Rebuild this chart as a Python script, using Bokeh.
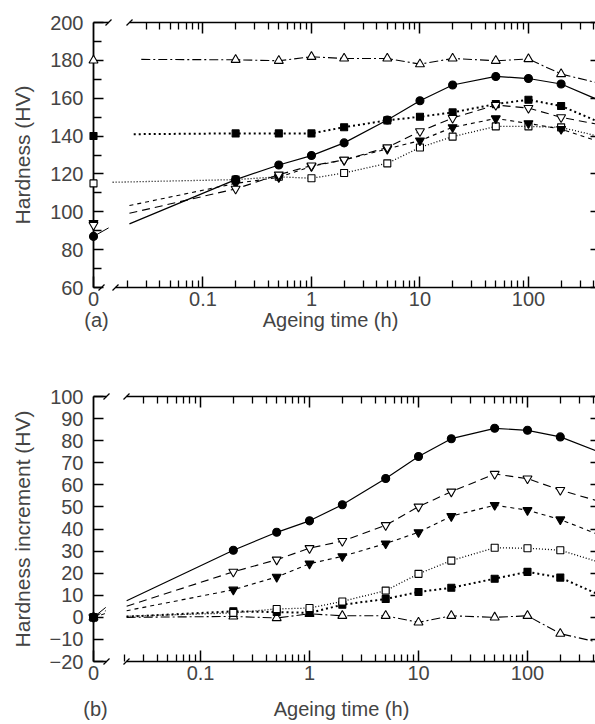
from bokeh.plotting import figure
from bokeh.models import Range1d, FixedTicker, CustomJSTickFormatter, LogAxis, LinearAxis
from bokeh.layouts import column
from bokeh.embed import file_html
from bokeh.resources import INLINE

# ---------------- data ----------------
ageing_time_h = [0, 0.2, 0.5, 1, 2, 5, 10, 20, 50, 100, 200]

# (a) hardness, HV
hv_filled_circle = [87, 117.0, 124.7, 129.7, 136.4, 148.5, 158.7, 167.0, 171.5, 170.4, 167.5]
hv_open_down = [93, 112.1, 119.6, 124.4, 127.4, 134.0, 142.5, 149.5, 156.4, 154.8, 149.9]
hv_filled_down = [94, 115.0, 118.2, 124.0, 127.4, 133.2, 137.6, 144.6, 149.3, 146.7, 143.7]
hv_open_square = [115, 117.0, 118.5, 117.7, 120.5, 125.6, 134.0, 139.7, 145.1, 145.1, 144.6]
hv_filled_square = [140, 141.4, 141.4, 141.4, 144.7, 148.3, 150.2, 152.5, 156.9, 159.2, 155.9]
hv_open_up = [180, 180.3, 179.8, 181.9, 181.0, 181.0, 178.0, 181.0, 179.8, 180.7, 172.8]

# (b) hardness increment, HV
inc_filled_circle = [0, 30.4, 38.5, 43.7, 51.0, 62.9, 72.8, 80.9, 85.6, 84.7, 81.7]
inc_open_down = [0, 20.6, 26.1, 31.3, 34.5, 41.7, 50.1, 56.9, 64.9, 62.8, 57.6]
inc_filled_down = [0, 12.5, 18.3, 24.3, 27.6, 33.4, 38.5, 45.8, 50.8, 48.5, 44.3]
inc_open_square = [0, 2.0, 3.8, 4.2, 7.2, 12.1, 19.7, 25.7, 31.5, 31.3, 30.4]
inc_filled_square = [0, 2.7, 2.4, 2.0, 5.7, 8.3, 11.5, 13.4, 17.5, 20.6, 18.0]
inc_open_up = [0, 0.4, -0.3, 1.6, 0.7, 0.7, -2.3, 0.7, 0.0, 0.7, -7.4]

# fitted curves: where they begin / end beyond the measured points
series_order = ["filled_circle", "open_down", "filled_down", "open_square", "filled_square", "open_up"]
curve_start_time_a = [0.021, 0.021, 0.021, 0.0147, 0.023, 0.027]
curve_start_hv_a = [93.6, 99.2, 103.3, 115.6, 141.0, 180.5]
curve_start_time_b = [0.021, 0.021, 0.021, 0.021, 0.021, 0.021]
curve_start_inc_b = [7.5, 5.0, 3.0, 0.5, 0.3, 0.0]
curve_end_time = 420
curve_end_hv_a = [159.6, 146.4, 137.6, 140.2, 148.1, 168.3]
curve_end_inc_b = [75.5, 53.0, 38.0, 25.5, 11.0, -11.0]
# short curve pieces leaving the t = 0 points
stub_time = 0.0135
stub_hv_a = {"filled_circle": 91.5}
stub_inc_b = {"filled_circle": 4.5, "open_down": 3.0, "filled_down": 1.8}

x_tick_values = [0.1, 1, 10, 100]
x_minor_values = [m * 10 ** e for e in (-2, -1, 0, 1, 2) for m in range(2, 10) if m * 10 ** e < 420]
x_title = "Ageing time (h)"

# ---------------- styles ----------------
FONT = "Liberation Sans"
styles = {
    "filled_circle": dict(marker="circle", fill="black", size=8, dash="solid", lw=1.2),
    "open_down": dict(marker="inverted_triangle", fill="white", size=9, dash="8 5", lw=1.1),
    "filled_down": dict(marker="inverted_triangle", fill="black", size=9, dash="4 4", lw=1.1),
    "open_square": dict(marker="square", fill="white", size=7, dash="1 2", lw=1.3),
    "filled_square": dict(marker="square", fill="black", size=7, dash="2 3", lw=2.0),
    "open_up": dict(marker="triangle", fill="white", size=9, dash="9 3 2 3", lw=1.1),
}

FRAME_L, FRAME_R = 93, 595


def make_panel(height, border_top, border_bottom, lo, hi, yr, y_major, y_minor, ylabel,
               vals, starts_t, starts_v, ends_v, stubs, breaks_above, breaks_below, px_per_unit,
               xlabel_px, tag_px, tag, tag_standoff):
    x0 = 10 ** lo
    x1 = 10 ** hi

    def tx(px):
        return 10 ** (lo + (px - FRAME_L) / (FRAME_R - FRAME_L) * (hi - lo))

    p = figure(width=595, height=height, x_axis_type="log", output_backend="svg",
               toolbar_location=None, x_range=Range1d(x0, x1), y_range=Range1d(*yr),
               min_border_left=FRAME_L, min_border_right=0, min_border_top=border_top,
               min_border_bottom=border_bottom)
    p.outline_line_color = None
    p.grid.visible = False
    p.background_fill_color = "white"

    xa = p.xaxis[0]
    xa.ticker = FixedTicker(ticks=[x0] + x_tick_values, minor_ticks=x_minor_values)
    xa.formatter = CustomJSTickFormatter(code="if (tick < 0.05) { return '0' } return String(tick)")
    xa.axis_line_color = None
    xa.major_tick_in = 11
    xa.major_tick_out = 0
    xa.minor_tick_in = 7
    xa.minor_tick_out = 0
    xa.major_tick_line_width = 1.5
    xa.minor_tick_line_width = 1.3
    xa.major_label_text_font = FONT
    xa.major_label_text_font_size = "20px"
    xa.major_label_standoff = 4

    # second row under the axis: panel tag and axis title
    row2 = LogAxis(ticker=FixedTicker(ticks=[tx(tag_px), tx(xlabel_px)], minor_ticks=[]),
                   formatter=CustomJSTickFormatter(
                       code="return tick < 0.05 ? '%s' : '%s'" % (tag, x_title)),
                   axis_line_color=None, major_tick_in=0, major_tick_out=0, minor_tick_in=0,
                   minor_tick_out=0, major_tick_line_color=None, minor_tick_line_color=None,
                   major_label_text_font=FONT, major_label_text_font_size="20px",
                   major_label_standoff=tag_standoff)
    p.add_layout(row2, "below")

    top = LogAxis(ticker=FixedTicker(ticks=x_tick_values, minor_ticks=[v for v in x_minor_values if v > 0.025]),
                  axis_line_color=None, major_tick_in=11, major_tick_out=0, minor_tick_in=7,
                  minor_tick_out=0, major_tick_line_width=1.5, minor_tick_line_width=1.3,
                  major_label_text_font_size="1px", major_label_text_alpha=0.0,
                  major_label_standoff=0)
    p.add_layout(top, "above")

    ya = p.yaxis[0]
    ya.ticker = FixedTicker(ticks=y_major, minor_ticks=y_minor)
    ya.formatter = CustomJSTickFormatter(code="return tick < 0 ? '\u2212' + Math.abs(tick) : String(tick)")
    ya.axis_line_width = 1.8
    ya.major_tick_in = 10
    ya.major_tick_out = 0
    ya.minor_tick_in = 8
    ya.minor_tick_out = 0
    ya.major_tick_line_width = 1.5
    ya.minor_tick_line_width = 1.5
    ya.major_label_text_font = FONT
    ya.major_label_text_font_size = "20px"
    ya.major_label_standoff = 10
    ya.axis_label = ylabel
    ya.axis_label_text_font = FONT
    ya.axis_label_text_font_size = "21px"
    ya.axis_label_text_font_style = "normal"
    ya.axis_label_standoff = 13

    right = LinearAxis(ticker=FixedTicker(ticks=y_major), axis_line_color=None, major_tick_in=5,
                       major_tick_out=0, minor_tick_in=0, minor_tick_out=0, major_tick_line_width=1.5,
                       major_label_text_font_size="1px", major_label_text_alpha=0.0,
                       major_label_standoff=0)
    p.add_layout(right, "right")

    # broken top / bottom frame lines
    dy = 3.0 / px_per_unit
    for yv, segs in ((yr[1], breaks_above), (yr[0], breaks_below)):
        (a0, a1), (b0, b1) = segs
        p.line([tx(a0), tx(a1)], [yv, yv], line_color="black", line_width=1.6, level="overlay")
        p.line([tx(b0), tx(b1)], [yv, yv], line_color="black", line_width=1.6, level="overlay")
        for c in (a1, b0):
            p.line([tx(c - 3), tx(c + 3)], [yv - dy, yv + dy], line_color="black", line_width=1.3,
                   level="overlay")

    # curves
    for i, name in enumerate(series_order):
        st = styles[name]
        v = vals[name]
        xs = [starts_t[i]] + ageing_time_h[1:] + [curve_end_time]
        ys = [starts_v[i]] + v[1:] + [ends_v[i]]
        p.line(xs, ys, line_color="black", line_width=st["lw"], line_dash=st["dash"])
        if name in stubs:
            p.line([x0, stub_time], [v[0], stubs[name]], line_color="black", line_width=1.0,
                   line_dash=st["dash"])
    # markers
    for name in reversed(series_order):
        st = styles[name]
        v = vals[name]
        p.scatter(ageing_time_h[1:], v[1:], marker=st["marker"], size=st["size"],
                  fill_color=st["fill"], line_color="black", line_width=1.1)
        p.scatter([x0], [v[0]], marker=st["marker"], size=st["size"], fill_color=st["fill"],
                  line_color="black", line_width=1.1, level="overlay")
    return p


vals_a = dict(zip(series_order, [hv_filled_circle, hv_open_down, hv_filled_down,
                                 hv_open_square, hv_filled_square, hv_open_up]))
vals_b = dict(zip(series_order, [inc_filled_circle, inc_open_down, inc_filled_down,
                                 inc_open_square, inc_filled_square, inc_open_up]))

p1 = make_panel(340, 22, 53, -2.009, 2.618, (60, 200), list(range(60, 201, 20)),
                list(range(70, 200, 20)), "Hardness (HV)", vals_a, curve_start_time_a,
                curve_start_hv_a, curve_end_hv_a, stub_hv_a,
                ((93, 108), (129, 595)), ((93, 101), (115, 595)), 265 / 140,
                330, 96, "(a)", 0)
p2 = make_panel(384, 56, 63, -1.982, 2.624, (-20, 100), list(range(-20, 101, 10)), [],
                "Hardness increment (HV)", vals_b, curve_start_time_b, curve_start_inc_b,
                curve_end_inc_b, stub_inc_b,
                ((93, 106), (126, 595)), ((93, 106), (126, 595)), 265 / 120,
                341, 95, "(b)", 15)

open("out.html", "w").write(file_html(column(p1, p2), INLINE))
